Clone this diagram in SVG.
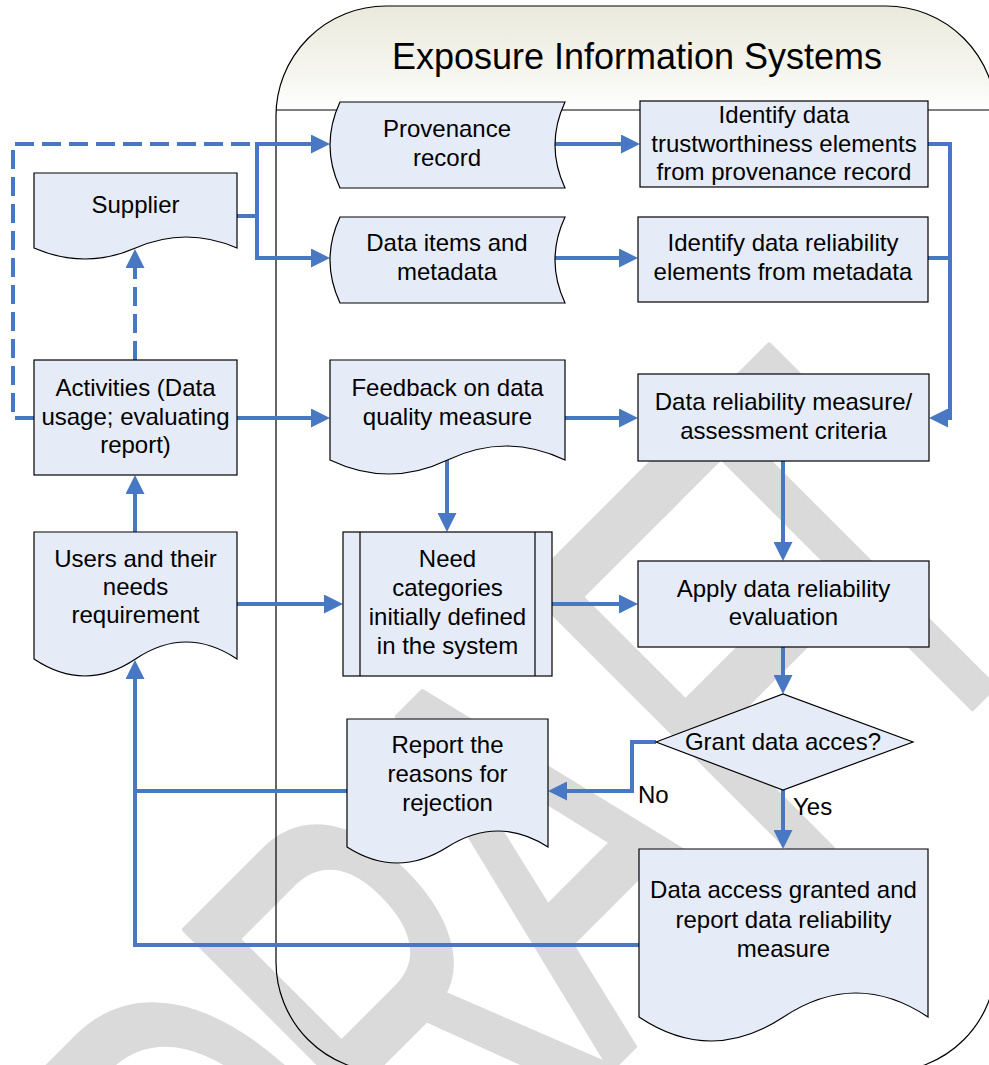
<svg xmlns="http://www.w3.org/2000/svg" width="989" height="1065" viewBox="0 0 989 1065">
  <defs>
    <style>
      text { font-family: "Liberation Sans", Arial, sans-serif; fill: #000; }
      .node { fill: #e6ecf7; stroke: #000; stroke-width: 1.2; }
      .lbl { font-size: 24px; text-anchor: middle; }
      .tag { font-size: 24px; }
      .conn { fill: none; stroke: #4878c4; stroke-width: 4; }
      .dash { stroke-dasharray: 19 8; }
      .lane { fill: none; stroke: #000; stroke-width: 1.2; }
    </style>
    <linearGradient id="laneHead" x1="0" y1="6" x2="0" y2="110" gradientUnits="userSpaceOnUse">
      <stop offset="0" stop-color="#e9e9dc"/>
      <stop offset="0.75" stop-color="#f8f8f3"/>
      <stop offset="1" stop-color="#ffffff"/>
    </linearGradient>
    <marker id="arrow" viewBox="0 0 19 19" markerWidth="19" markerHeight="19" refX="7" refY="9.5" orient="auto" markerUnits="userSpaceOnUse">
      <path d="M0,0 L19,9.5 L0,19 Z" fill="#4878c4"/>
    </marker>
  </defs>

  <!-- swimlane background -->
  <rect x="276" y="6" width="720" height="1066" rx="110" ry="110" fill="url(#laneHead)"/>

  <!-- watermark -->
  <g id="watermark" transform="rotate(-45) scale(0.6,1)">
    <text x="-1103 -717 -348 58 337" y="1188" font-size="581" text-anchor="middle" style="fill:#dadada;stroke:#dadada;stroke-width:5;stroke-linejoin:round" vector-effect="non-scaling-stroke">DRAFT</text>
  </g>

  <!-- swimlane outline -->
  <g id="lane">
    <rect class="lane" x="276" y="6" width="720" height="1066" rx="110" ry="110"/>
    <line class="lane" x1="276" y1="110" x2="996" y2="110"/>
    <text x="637" y="69" font-size="36" text-anchor="middle">Exposure Information Systems</text>
  </g>

  <!-- connectors -->
  <g id="connectors">
    <path class="conn dash" d="M34,418 H13 V144 H257"/>
    <path class="conn dash" d="M135,360 V261" marker-end="url(#arrow)"/>
    <path class="conn" d="M237,216 H257 V144 H318" marker-end="url(#arrow)"/>
    <path class="conn" d="M257,216 V258 H318" marker-end="url(#arrow)"/>
    <path class="conn" d="M237,418 H318" marker-end="url(#arrow)"/>
    <path class="conn" d="M135,532 V487" marker-end="url(#arrow)"/>
    <path class="conn" d="M237,604 H331" marker-end="url(#arrow)"/>
    <path class="conn" d="M447,460 V520" marker-end="url(#arrow)"/>
    <path class="conn" d="M555,144 H628" marker-end="url(#arrow)"/>
    <path class="conn" d="M555,258 H626" marker-end="url(#arrow)"/>
    <path class="conn" d="M928,144 H950 V418 H941" marker-end="url(#arrow)"/>
    <path class="conn" d="M928,258 H950"/>
    <path class="conn" d="M565,418 H626" marker-end="url(#arrow)"/>
    <path class="conn" d="M783,461 V549" marker-end="url(#arrow)"/>
    <path class="conn" d="M552,604 H626" marker-end="url(#arrow)"/>
    <path class="conn" d="M783,647 V682" marker-end="url(#arrow)"/>
    <path class="conn" d="M656,742 H632 V791 H560" marker-end="url(#arrow)"/>
    <path class="conn" d="M783,790 V837" marker-end="url(#arrow)"/>
    <path class="conn" d="M347,791 H135"/>
    <path class="conn" d="M639,945 H135 V672" marker-end="url(#arrow)"/>
    <text class="tag" x="638" y="803">No</text>
    <text class="tag" x="793" y="815">Yes</text>
  </g>

  <!-- nodes -->
  <g id="supplier">
    <path class="node" d="M34,173 H237 V248 Q186,226 135.5,248 Q85,270 34,248 Z"/>
    <text class="lbl" x="135.5" y="213">Supplier</text>
  </g>

  <g id="activities">
    <rect class="node" x="34" y="360" width="203" height="115"/>
    <text class="lbl" x="135.5" y="396">Activities (Data</text>
    <text class="lbl" x="135.5" y="425">usage; evaluating</text>
    <text class="lbl" x="135.5" y="453">report)</text>
  </g>

  <g id="users">
    <path class="node" d="M34,532 H237 V659 Q186,625 135.5,659 Q85,693 34,659 Z"/>
    <text class="lbl" x="135.5" y="567">Users and their</text>
    <text class="lbl" x="135.5" y="595">needs</text>
    <text class="lbl" x="135.5" y="623">requirement</text>
  </g>

  <g id="provenance">
    <path class="node" d="M340,102 H565 Q545,145 565,188 H340 Q320,145 340,102 Z"/>
    <text class="lbl" x="447" y="137">Provenance</text>
    <text class="lbl" x="447" y="166">record</text>
  </g>

  <g id="data-items">
    <path class="node" d="M340,217 H565 Q545,260 565,303 H340 Q320,260 340,217 Z"/>
    <text class="lbl" x="447" y="251">Data items and</text>
    <text class="lbl" x="447" y="280">metadata</text>
  </g>

  <g id="feedback">
    <path class="node" d="M330,360 H565 V460 Q506,432 447.5,460 Q389,488 330,460 Z"/>
    <text class="lbl" x="447.5" y="396">Feedback on data</text>
    <text class="lbl" x="447.5" y="425">quality measure</text>
  </g>

  <g id="need-categories">
    <rect class="node" x="343" y="532" width="209" height="144"/>
    <line class="node" x1="360" y1="532" x2="360" y2="676"/>
    <line class="node" x1="535" y1="532" x2="535" y2="676"/>
    <text class="lbl" x="447.5" y="567">Need</text>
    <text class="lbl" x="447.5" y="596">categories</text>
    <text class="lbl" x="447.5" y="625">initially defined</text>
    <text class="lbl" x="447.5" y="654">in the system</text>
  </g>

  <g id="report-rejection">
    <path class="node" d="M347,719 H548 V847 Q498,815 447.5,847 Q397,879 347,847 Z"/>
    <text class="lbl" x="447.5" y="753">Report the</text>
    <text class="lbl" x="447.5" y="782">reasons for</text>
    <text class="lbl" x="447.5" y="811">rejection</text>
  </g>

  <g id="identify-trust">
    <rect class="node" x="640" y="101" width="288" height="86"/>
    <text class="lbl" x="784" y="123">Identify data</text>
    <text class="lbl" x="784" y="152">trustworthiness elements</text>
    <text class="lbl" x="784" y="180">from provenance record</text>
  </g>

  <g id="identify-reliability">
    <rect class="node" x="638" y="217" width="290" height="85"/>
    <text class="lbl" x="783" y="251">Identify data reliability</text>
    <text class="lbl" x="783" y="280">elements from metadata</text>
  </g>

  <g id="reliability-measure">
    <rect class="node" x="638" y="374" width="291" height="87"/>
    <text class="lbl" x="783.5" y="410">Data reliability measure/</text>
    <text class="lbl" x="783.5" y="439">assessment criteria</text>
  </g>

  <g id="apply-evaluation">
    <rect class="node" x="638" y="561" width="291" height="86"/>
    <text class="lbl" x="783.5" y="597">Apply data reliability</text>
    <text class="lbl" x="783.5" y="625">evaluation</text>
  </g>

  <g id="grant-access">
    <path class="node" d="M656,742 L783,694 L913,742 L783,790 Z"/>
    <text class="lbl" x="783" y="750">Grant data acces?</text>
  </g>

  <g id="access-granted">
    <path class="node" d="M639,849 H928 V1017 Q856,969 783.5,1017 Q711,1065 639,1017 Z"/>
    <text class="lbl" x="783.5" y="898">Data access granted and</text>
    <text class="lbl" x="783.5" y="928">report data reliability</text>
    <text class="lbl" x="783.5" y="957">measure</text>
  </g>
</svg>
